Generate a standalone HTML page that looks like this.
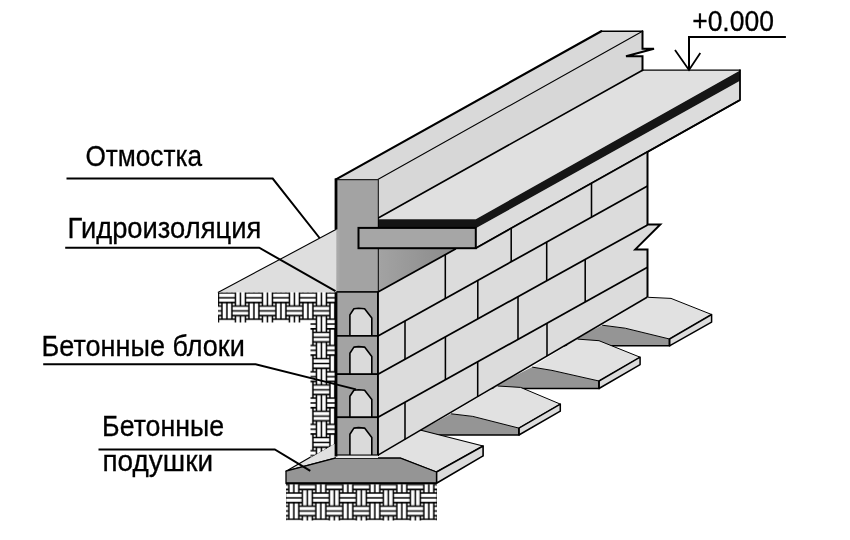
<!DOCTYPE html>
<html><head><meta charset="utf-8"><style>
html,body{margin:0;padding:0;background:#fff;}
svg{display:block;filter:grayscale(1);}
</style></head><body>
<svg width="850" height="540" viewBox="0 0 850 540">
<rect width="850" height="540" fill="#fff"/>
<defs>
<linearGradient id="wf" x1="336" y1="0" x2="378" y2="0" gradientUnits="userSpaceOnUse"><stop offset="0" stop-color="#ababab"/><stop offset="0.05" stop-color="#a9a9a9"/><stop offset="0.1" stop-color="#a3a3a3"/><stop offset="1" stop-color="#a3a3a3"/></linearGradient>
<linearGradient id="sh" x1="0" y1="0" x2="1" y2="0"><stop offset="0" stop-color="#a3a3a3"/><stop offset="0.6" stop-color="#949494"/><stop offset="1" stop-color="#8c8c8c"/></linearGradient>
<pattern id="soil" x="221.9" y="292.9" width="27" height="26.3" patternUnits="userSpaceOnUse"><rect width="27" height="26.3" fill="#fff"/><path d="M-1 0L13.5 0 M23.5 0L28 0 M-1 26.3L13.5 26.3 M23.5 26.3L28 26.3 M-1 4.8L13.5 4.8 M23.5 4.8L28 4.8 M-1 9.6L13.5 9.6 M23.5 9.6L28 9.6 M13.5 -1L13.5 13.15 M13.5 22.75L13.5 27.3 M18.5 -1L18.5 13.15 M18.5 22.75L18.5 27.3 M23.5 -1L23.5 13.15 M23.5 22.75L23.5 27.3 M10 13.15L27 13.15 M10 17.95L27 17.95 M10 22.75L27 22.75 M0 9.6L0 26.3 M5 9.6L5 26.3 M10 9.6L10 26.3 M27 9.6L27 26.3" stroke="#000" stroke-width="1.5" stroke-linecap="square" fill="none"/></pattern>
<pattern id="soil2" x="288.8" y="493" width="27" height="26.3" patternUnits="userSpaceOnUse"><rect width="27" height="26.3" fill="#fff"/><path d="M-1 0L13.5 0 M23.5 0L28 0 M-1 26.3L13.5 26.3 M23.5 26.3L28 26.3 M-1 4.8L13.5 4.8 M23.5 4.8L28 4.8 M-1 9.6L13.5 9.6 M23.5 9.6L28 9.6 M13.5 -1L13.5 13.15 M13.5 22.75L13.5 27.3 M18.5 -1L18.5 13.15 M18.5 22.75L18.5 27.3 M23.5 -1L23.5 13.15 M23.5 22.75L23.5 27.3 M10 13.15L27 13.15 M10 17.95L27 17.95 M10 22.75L27 22.75 M0 9.6L0 26.3 M5 9.6L5 26.3 M10 9.6L10 26.3 M27 9.6L27 26.3" stroke="#000" stroke-width="1.5" stroke-linecap="square" fill="none"/></pattern>
</defs>
<polygon points="336.0,179.4 377.8,179.4 642.5,31.2 601.2,31.2" fill="#d9d9d9"/>
<polygon points="377.8,179.4 642.5,31.2 642.5,48.8 654.0,48.8 626.0,56.3 642.5,56.3 642.5,70.2 377.8,219.2" fill="#d7d7d7"/>
<polygon points="377.8,219.2 642.5,70.2 740.0,70.2 475.8,219.2" fill="#e0e0e0"/>
<polygon points="475.8,228.3 740.0,80.7 740.0,100.0 475.8,248.2" fill="#dcdcdc"/>
<polygon points="377.8,219.2 475.8,219.2 740.0,70.4 740.0,80.7 475.8,228.3 377.8,228.3" fill="#151515"/>
<g stroke="#000" fill="none" stroke-linecap="round">
<polyline points="336,179.4 601.25,31.25" stroke-width="2.2"/><line x1="601.25" y1="31.25" x2="642.5" y2="31.25" stroke-width="1.4"/>
<line x1="377.8" y1="179.4" x2="642.5" y2="31.25" stroke-width="1.1"/>
<line x1="377.8" y1="218.2" x2="642.5" y2="70.2" stroke-width="1.6"/>
<line x1="642.5" y1="70.2" x2="740" y2="70.2" stroke-width="1.3"/>
<polyline points="740,70.2 740,100 475.8,248.2" stroke-width="1.8"/>
<polyline points="642.5,31.25 642.5,48.8 654,48.8 626,56.3 642.5,56.3 642.5,70.2" stroke-width="2" stroke-linejoin="miter"/>
</g>
<polygon points="560.0,346.5 602.2,325.2 625.2,328.2 669.5,339.0 669.5,345.8" fill="#959595"/>
<polygon points="602.2,325.2 648.1,297.3 671.0,298.4 711.6,314.5 669.5,339.0 625.2,328.2" fill="#e1e1e1"/>
<polyline points="648.1,297.3 671.0,298.4 711.6,314.5 669.5,339.0 625.2,328.2 602.2,325.2" fill="none" stroke="#000" stroke-width="1.0" stroke-linejoin="round"/>
<polygon points="669.5,339.0 711.6,314.5 711.6,322.1 669.5,345.8" fill="#dcdcdc" stroke="#000" stroke-width="1.5" stroke-linejoin="round"/>
<polyline points="669.5,339.0 669.5,345.8 560.0,345.8" fill="none" stroke="#000" stroke-width="1.6"/>
<polygon points="490.0,388.5 532.2,367.1 552.0,370.4 599.0,381.0 599.0,388.5" fill="#959595"/>
<polygon points="532.2,367.1 577.5,339.1 599.0,340.7 640.1,357.2 599.0,381.0 552.0,370.4" fill="#e1e1e1"/>
<polyline points="577.5,339.1 599.0,340.7 640.1,357.2 599.0,381.0 552.0,370.4 532.2,367.1" fill="none" stroke="#000" stroke-width="1.0" stroke-linejoin="round"/>
<polygon points="599.0,381.0 640.1,357.2 640.1,364.6 599.0,388.5" fill="#dcdcdc" stroke="#000" stroke-width="1.5" stroke-linejoin="round"/>
<polyline points="599.0,381.0 599.0,388.5 490.0,388.5" fill="none" stroke="#000" stroke-width="1.6"/>
<polygon points="412.0,435.0 451.1,413.8 472.8,416.4 518.9,428.1 518.9,435.0" fill="#959595"/>
<polygon points="451.1,413.8 497.6,386.0 520.6,387.4 560.3,404.1 518.9,428.1 472.8,416.4" fill="#e1e1e1"/>
<polyline points="497.6,386.0 520.6,387.4 560.3,404.1 518.9,428.1 472.8,416.4 451.1,413.8" fill="none" stroke="#000" stroke-width="1.0" stroke-linejoin="round"/>
<polygon points="518.9,428.1 560.3,404.1 560.3,411.2 518.9,435.0" fill="#dcdcdc" stroke="#000" stroke-width="1.5" stroke-linejoin="round"/>
<polyline points="518.9,428.1 518.9,435.0 412.0,435.0" fill="none" stroke="#000" stroke-width="1.6"/>
<polygon points="286.0,471.2 334.4,443.2 390.0,430.0 422.0,430.5 483.1,446.0 436.5,472.0 400.6,458.2 335.2,458.2" fill="#e1e1e1" stroke="#000" stroke-width="1.2" stroke-linejoin="round"/>
<polygon points="436.5,472.0 483.1,446.0 483.1,455.9 436.5,483.2" fill="#dcdcdc" stroke="#000" stroke-width="1.6" stroke-linejoin="round"/>
<polygon points="286.0,483.5 286.0,471.2 335.2,458.2 400.6,458.2 436.5,472.0 436.5,483.2" fill="#959595" stroke="#000" stroke-width="1.3" stroke-linejoin="round"/>
<line x1="286" y1="483.5" x2="436.5" y2="483.5" stroke="#000" stroke-width="2.4"/>
<polygon points="378.0,248.2 475.8,248.2 647.5,151.8 647.5,224.4 660.3,224.4 635.3,249.4 647.5,249.4 647.5,297.0 378.0,455.2" fill="#dcdcdc"/>
<polygon points="378.0,248.8 455.9,248.8 378.0,291.9" fill="url(#sh)"/>
<g stroke="#000" fill="none" stroke-width="1.75" stroke-linecap="butt">
<line x1="378" y1="291.9" x2="455.9" y2="248.8"/>
<line x1="378.0" y1="335.9" x2="647.5" y2="186.0"/>
<line x1="378.0" y1="374.2" x2="647.5" y2="224.9"/>
<line x1="378.0" y1="417.3" x2="647.5" y2="267.2"/>
<line x1="378.0" y1="455.2" x2="647.5" y2="297.0" stroke-width="1.5"/>
<line x1="445.3" y1="254.4" x2="445.3" y2="298.5" stroke-width="1.55"/>
<line x1="511.2" y1="228.3" x2="511.2" y2="261.8" stroke-width="1.55"/>
<line x1="591.5" y1="183.3" x2="591.5" y2="217.1" stroke-width="1.55"/>
<line x1="405" y1="320.9" x2="405" y2="359.2" stroke-width="1.55"/>
<line x1="477.8" y1="280.4" x2="477.8" y2="318.9" stroke-width="1.55"/>
<line x1="546.7" y1="242.1" x2="546.7" y2="280.7" stroke-width="1.55"/>
<line x1="445.4" y1="336.9" x2="445.4" y2="379.8" stroke-width="1.55"/>
<line x1="518" y1="296.6" x2="518" y2="339.3" stroke-width="1.55"/>
<line x1="585.2" y1="259.4" x2="585.2" y2="301.9" stroke-width="1.55"/>
<line x1="405" y1="402.3" x2="405" y2="439.4" stroke-width="1.55"/>
<line x1="477.7" y1="361.8" x2="477.7" y2="396.7" stroke-width="1.55"/>
<line x1="547" y1="323.2" x2="547" y2="356.0" stroke-width="1.55"/>
</g>
<polyline points="647.5,151.8 647.5,224.4 660.3,224.4 635.3,249.4 647.5,249.4 647.5,297" stroke="#000" fill="none" stroke-width="2" stroke-linejoin="miter"/>
<line x1="377.8" y1="179.4" x2="377.8" y2="456" stroke="#000" stroke-width="2"/>
<line x1="475.8" y1="248.2" x2="740" y2="100" stroke="#000" stroke-width="1.7"/>
<rect x="336" y="179.4" width="41.8" height="112.5" fill="url(#wf)"/>
<line x1="336" y1="179.6" x2="378" y2="179.6" stroke="#222" stroke-width="1.1"/>
<rect x="336" y="291.9" width="41.8" height="44.0" fill="#a3a3a3" stroke="#000" stroke-width="1.6"/>
<polygon points="349.9,335.9 349.9,314.9 353.9,308.8 358.5,308.3 364.6,308.8 371.8,318.1 371.8,335.9" fill="#dadada" stroke="#000" stroke-width="1.6" stroke-linejoin="round"/>
<rect x="336" y="335.9" width="41.8" height="38.3" fill="#a3a3a3" stroke="#000" stroke-width="1.6"/>
<polygon points="349.9,374.2 349.9,353.2 353.9,347.1 358.5,346.6 364.6,347.1 371.8,356.4 371.8,374.2" fill="#dadada" stroke="#000" stroke-width="1.6" stroke-linejoin="round"/>
<rect x="336" y="374.2" width="41.8" height="43.1" fill="#a3a3a3" stroke="#000" stroke-width="1.6"/>
<polygon points="349.9,417.3 349.9,396.3 353.9,390.2 358.5,389.7 364.6,390.2 371.8,399.5 371.8,417.3" fill="#dadada" stroke="#000" stroke-width="1.6" stroke-linejoin="round"/>
<rect x="336" y="417.3" width="41.8" height="37.9" fill="#a3a3a3" stroke="#000" stroke-width="1.6"/>
<polygon points="349.9,455.2 349.9,434.2 353.9,428.1 358.5,427.6 364.6,428.1 371.8,437.4 371.8,455.2" fill="#dadada" stroke="#000" stroke-width="1.6" stroke-linejoin="round"/>
<rect x="358.5" y="227.9" width="117.3" height="20.3" fill="#a6a6a6" stroke="#000" stroke-width="2"/>
<rect x="336" y="455.6" width="42" height="2.4" fill="#e8e8e8"/>
<polygon points="217.9,292.5 336.3,229.3 336.3,292.5" fill="#dedede"/>
<line x1="217.9" y1="292.5" x2="336.3" y2="229.3" stroke="#000" stroke-width="1.1"/>
<polygon points="218.0,292.5 336.0,292.5 336.0,443.0 310.5,457.5 310.5,322.6 218.0,322.6" fill="url(#soil)"/>
<rect x="286" y="484.5" width="151" height="36" fill="url(#soil2)"/>
<line x1="336" y1="178.4" x2="336" y2="229.3" stroke="#000" stroke-width="2.8"/>
<line x1="336" y1="292.5" x2="336" y2="456.5" stroke="#000" stroke-width="2.8"/>
<g stroke="#000" fill="none" stroke-width="2">
<polyline points="66.5,178.6 272.7,178.6 319.6,238"/>
<polyline points="65.2,247.7 259.2,247.7 335.5,291.2"/>
<polyline points="43.2,364.3 255.6,364.3 356,389.4"/>
<polyline points="98.5,449.4 274.8,449.4 310.3,470.9"/>
<polyline points="785.9,37 689,37 689,70"/>
<polyline points="675,50 689,70 700.3,53" stroke-width="1.8"/>
</g>
<g font-family="Liberation Sans, sans-serif" fill="#000" stroke="#000" stroke-width="0.3">
<text x="85.4" y="165.5" font-size="29" textLength="116.6" lengthAdjust="spacingAndGlyphs">Отмостка</text>
<text x="67.6" y="238.2" font-size="29" textLength="193.7" lengthAdjust="spacingAndGlyphs">Гидроизоляция</text>
<text x="41.6" y="356.2" font-size="29" textLength="203.2" lengthAdjust="spacingAndGlyphs">Бетонные блоки</text>
<text x="102.1" y="436.3" font-size="29" textLength="122.1" lengthAdjust="spacingAndGlyphs">Бетонные</text>
<text x="102.5" y="470.5" font-size="29" textLength="110.5" lengthAdjust="spacingAndGlyphs">подушки</text>
<text x="692.2" y="31.2" font-size="29" textLength="81.7" lengthAdjust="spacingAndGlyphs">+0.000</text>
</g>
</svg></body></html>
